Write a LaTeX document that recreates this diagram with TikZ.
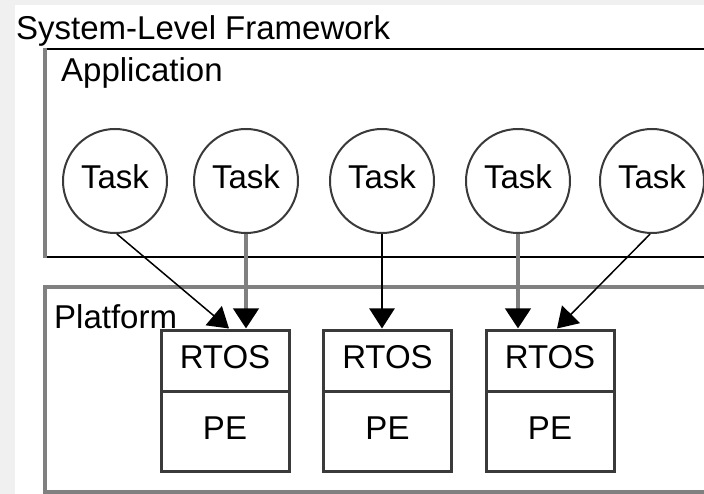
\documentclass[tikz,border=0pt]{standalone}
\usepackage{fontspec}
\setmainfont{Liberation Sans}
\usetikzlibrary{arrows.meta}

\definecolor{pagebg}{HTML}{F0F0F0}
\definecolor{framegray}{HTML}{808080}
\definecolor{darkline}{HTML}{3A3A3A}

\tikzset{
  bigfont/.style={font=\fontsize{33}{38}\selectfont},
  label text/.style={anchor=base west, inner sep=0pt, bigfont},
  lifted/.style={text height=23pt, text depth=7pt},
  task/.style={circle, draw=darkline, line width=2pt, fill=white, minimum size=104pt,
    inner sep=0pt, bigfont, lifted},
  osbox/.style={rectangle, draw=darkline, line width=3pt, fill=white, minimum width=128pt,
    minimum height=61pt, inner sep=0pt, bigfont, lifted},
  pebox/.style={osbox, minimum height=80pt},
  tip/.style={-{Triangle[length=20pt,width=25pt,color=black]}},
  thinarrow/.style={tip, black, line width=1.5pt},
  blackarrow/.style={tip, black, line width=2.5pt},
  grayarrow/.style={tip, framegray, line width=4pt},
}

\begin{document}
\begin{tikzpicture}[x=1pt, y=-1pt]
  \useasboundingbox (0,0) rectangle (704,494);
  \fill[pagebg] (0,0) rectangle (704,494);
  \fill[white] (15,5) rectangle (704,494);

  % outer framework title
  \node[label text] (title) at (16,40) {System-Level Framework};

  % application layer
  \draw[black, line width=2pt] (46,49) -- (712,49);
  \draw[black, line width=2pt] (46,257) -- (712,257);
  \draw[framegray, line width=4pt] (45,48) -- (45,258);
  \node[label text] (app) at (61,82) {Application};

  % platform layer
  \draw[framegray, line width=3.5pt] (712,287) -- (45,287) -- (45,492) -- (712,492);
  \node[label text] (plat) at (54,328) {Platform};

  % tasks
  \node[task] (t1) at (115,181) {Task};
  \node[task] (t2) at (246,181) {Task};
  \node[task] (t3) at (382,181) {Task};
  \node[task] (t4) at (518,181) {Task};
  \node[task] (t5) at (652,181) {Task};

  % processing elements with their RTOS
  \node[osbox] (r1) at (225,360.5) {RTOS};
  \node[pebox] (p1) at (225,431) {PE};
  \node[osbox] (r2) at (387.5,360.5) {RTOS};
  \node[pebox] (p2) at (387.5,431) {PE};
  \node[osbox] (r3) at (550,360.5) {RTOS};
  \node[pebox] (p3) at (550,431) {PE};

  % task mapping
  \draw[thinarrow] (t1.-88) -- ([xshift=4pt]r1.north);
  \draw[grayarrow] (t2.south) -- (t2.south |- r1.north);
  \draw[blackarrow] (t3.south) -- (t3.south |- r2.north);
  \draw[grayarrow] (t4.south) -- (t4.south |- r3.north);
  \draw[thinarrow] (t5.-92) -- ([xshift=7pt]r3.north);
\end{tikzpicture}
\end{document}
